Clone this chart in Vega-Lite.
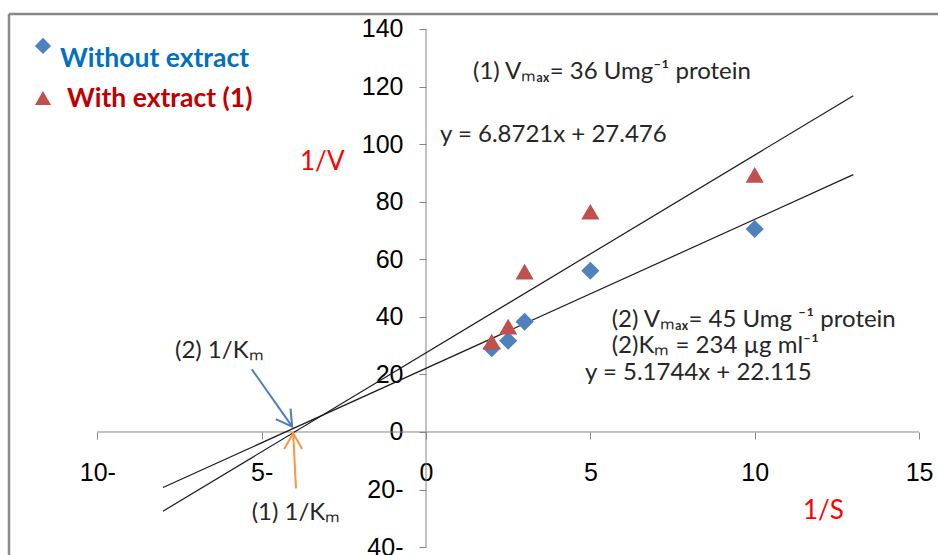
{
  "$schema": "https://vega.github.io/schema/vega-lite/v6.json",
  "width": 929,
  "height": 541,
  "autosize": {"type": "none"},
  "padding": {"left": 9, "top": 14, "right": 0, "bottom": 0},
  "background": "white",
  "config": {"view": {"stroke": null}, "axis": {"grid": false}},
  "datasets": {
    "axislines": [
      {"x": -10, "x2": 15, "y": 0, "y2": 0},
      {"x": 0, "x2": 0, "y": -40, "y2": 140}
    ],
    "border": [
      {"x": -12.686, "x2": 15.577, "y": 145.19, "y2": 145.19},
      {"x": -12.686, "x2": -12.686, "y": -42.73, "y2": 145.19}
    ],
    "trend": [
      {"series": "Without extract", "x": -8, "y": -19.28},
      {"series": "Without extract", "x": 13, "y": 89.38},
      {"series": "With extract (1)", "x": -8, "y": -27.50},
      {"series": "With extract (1)", "x": 13, "y": 116.81}
    ],
    "without": [
      {"x": 2, "y": 29.1},
      {"x": 2.5, "y": 31.7},
      {"x": 3, "y": 38.3},
      {"x": 5, "y": 56.0},
      {"x": 10, "y": 70.5}
    ],
    "with": [
      {"x": 2, "y": 31.4},
      {"x": 2.5, "y": 36.6},
      {"x": 3, "y": 55.7},
      {"x": 5, "y": 76.5},
      {"x": 10, "y": 89.3}
    ],
    "legendDiamond": [{"x": -11.652, "y": 134.1}],
    "legendTriangle": [{"x": -11.652, "y": 116.0}],
    "legendTextBlue": [{"x": -11.135, "y": 126.8, "label": "Without extract"}],
    "legendTextRed": [{"x": -10.922, "y": 112.9, "label": "With extract (1)"}],
    "axisTitles": [
      {"x": -3.833, "y": 91.0, "label": "1/V"},
      {"x": 11.47, "y": -30.3, "label": "1/S"}
    ],
    "notes": [
      {"x": 1.430, "y": 122.5, "label": "(1) Vₘₐₓ= 36 Umg⁻¹ protein"},
      {"x": 0.426, "y": 100.8, "label": "y = 6.8721x + 27.476"},
      {"x": 5.650, "y": 36.6, "label": "(2) Vₘₐₓ= 45 Umg ⁻¹ protein"},
      {"x": 5.650, "y": 27.3, "label": "(2)Kₘ = 234 µg ml⁻¹"},
      {"x": 4.837, "y": 18.1, "label": "y = 5.1744x + 22.115"},
      {"x": -7.636, "y": 25.6, "label": "(2) 1/Kₘ"},
      {"x": -5.303, "y": -30.6, "label": "(1) 1/Kₘ"}
    ],
    "blueShaft": [{"x": -5.30, "y": 21.8, "x2": -4.07, "y2": 1.84}],
    "blueHead": [{"x": -4.07, "y": 1.84}],
    "orangeShaft": [{"x": -3.955, "y": -19.6, "x2": -4.04, "y2": -0.45}],
    "orangeHead": [{"x": -4.04, "y": -0.45}]
  },
  "encoding": {
    "x": {
      "field": "x", "type": "quantitative",
      "scale": {"domain": [-12.686, 15.577], "nice": false, "zero": false},
      "axis": {
        "orient": "bottom", "offset": -123, "values": [-10, -5, 0, 5, 10, 15],
        "domain": false, "grid": false, "ticks": true, "tickSize": 7, "tickColor": "#868686", "tickWidth": 1,
        "labelExpr": "datum.value < 0 ? (-datum.value) + '-' : datum.label",
        "labelFont": "Liberation Sans", "labelFontSize": 25, "labelColor": "#000000",
        "labelPadding": 21, "labelBaseline": "top", "labelFlush": false, "labelOverlap": false, "title": null
      }
    },
    "y": {
      "field": "y", "type": "quantitative",
      "scale": {"domain": [-42.73, 145.19], "nice": false, "zero": false},
      "axis": {
        "orient": "left", "offset": -417, "values": [-40, -20, 0, 20, 40, 60, 80, 100, 120, 140],
        "domain": false, "grid": false, "ticks": true, "tickSize": 7, "tickColor": "#868686", "tickWidth": 1,
        "labelExpr": "datum.value < 0 ? (-datum.value) + '-' : datum.label",
        "labelFont": "Liberation Sans", "labelFontSize": 25, "labelColor": "#000000",
        "labelPadding": 16, "labelBaseline": "middle", "labelFlush": false, "labelOverlap": false, "title": null
      }
    }
  },
  "layer": [
    {
      "data": {"name": "border"},
      "mark": {"type": "rule", "color": "#8a8a8a", "strokeWidth": 2.5},
      "encoding": {"x2": {"field": "x2"}, "y2": {"field": "y2"}}
    },
    {
      "data": {"name": "axislines"},
      "mark": {"type": "rule", "color": "#868686", "strokeWidth": 1},
      "encoding": {"x2": {"field": "x2"}, "y2": {"field": "y2"}}
    },
    {
      "data": {"name": "trend"},
      "mark": {"type": "line", "color": "#1a1a1a", "strokeWidth": 1.2},
      "encoding": {"detail": {"field": "series"}}
    },
    {
      "data": {"name": "without"},
      "mark": {"type": "point", "shape": "diamond", "filled": true, "size": 330, "color": "#4F81BD", "opacity": 1},
      "encoding": {}
    },
    {
      "data": {"name": "with"},
      "mark": {"type": "point", "shape": "triangle-up", "filled": true, "size": 330, "color": "#C0504D", "opacity": 1},
      "encoding": {}
    },
    {
      "data": {"name": "legendDiamond"},
      "mark": {"type": "point", "shape": "diamond", "filled": true, "size": 260, "color": "#4F81BD", "opacity": 1},
      "encoding": {}
    },
    {
      "data": {"name": "legendTriangle"},
      "mark": {"type": "point", "shape": "triangle-up", "filled": true, "size": 260, "color": "#C0504D", "opacity": 1},
      "encoding": {}
    },
    {
      "data": {"name": "blueShaft"},
      "mark": {"type": "rule", "color": "#4A7EBB", "strokeWidth": 2},
      "encoding": {"x2": {"field": "x2"}, "y2": {"field": "y2"}}
    },
    {
      "data": {"name": "blueHead"},
      "mark": {"type": "point", "shape": "M-0.5,0.87L0,0L0.5,0.87", "filled": false, "size": 1300, "angle": 144.7, "color": "#4A7EBB", "strokeWidth": 2, "opacity": 1},
      "encoding": {}
    },
    {
      "data": {"name": "orangeShaft"},
      "mark": {"type": "rule", "color": "#F79646", "strokeWidth": 2},
      "encoding": {"x2": {"field": "x2"}, "y2": {"field": "y2"}}
    },
    {
      "data": {"name": "orangeHead"},
      "mark": {"type": "point", "shape": "M-0.5,0.87L0,0L0.5,0.87", "filled": false, "size": 1300, "angle": 0, "color": "#F79646", "strokeWidth": 2, "opacity": 1},
      "encoding": {}
    },
    {
      "data": {"name": "legendTextBlue"},
      "mark": {"type": "text", "align": "left", "baseline": "alphabetic", "font": "Lato", "fontWeight": "bold", "fontSize": 26.5, "color": "#0070C0"},
      "encoding": {"text": {"field": "label"}}
    },
    {
      "data": {"name": "legendTextRed"},
      "mark": {"type": "text", "align": "left", "baseline": "alphabetic", "font": "Lato", "fontWeight": "bold", "fontSize": 26.5, "color": "#C00000"},
      "encoding": {"text": {"field": "label"}}
    },
    {
      "data": {"name": "axisTitles"},
      "mark": {"type": "text", "align": "left", "baseline": "alphabetic", "font": "Lato", "fontSize": 26, "color": "#FF0000"},
      "encoding": {"text": {"field": "label"}}
    },
    {
      "data": {"name": "notes"},
      "mark": {"type": "text", "align": "left", "baseline": "alphabetic", "font": "Lato", "fontSize": 24, "color": "#262626"},
      "encoding": {"text": {"field": "label"}}
    }
  ]
}
